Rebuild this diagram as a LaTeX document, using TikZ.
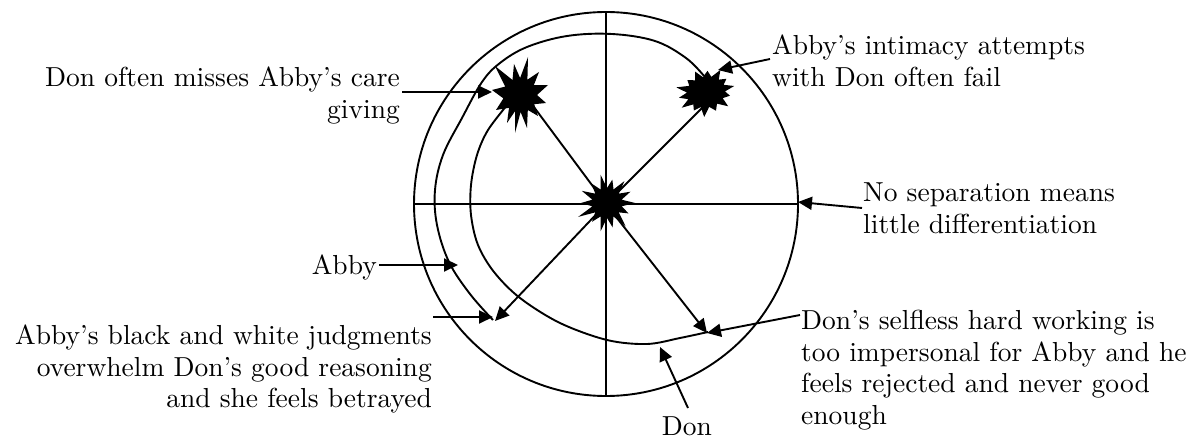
\documentclass[tikz,border=0pt]{standalone}
\usepackage{fontspec}
\setmainfont{lmroman10-regular.otf}[Ligatures=TeX]
\usetikzlibrary{arrows.meta,calc}
\begin{document}
\begin{tikzpicture}[x=1pt,y=-1pt,
  ln/.style={line width=1.9pt},
  arr/.style={ln,-{Triangle[length=14pt,width=13pt]}},
  lbl/.style={inner sep=0pt,font=\fontsize{27.5}{31.5}\selectfont},
  burst/.style={fill=black},
]
\useasboundingbox (0,0) rectangle (1196,438);
\coordinate (O) at (606,204);
% outer circle and cross
\draw[ln] (O) circle[radius=192pt];
\draw[ln] ($(O)+(0,-192)$) -- ($(O)+(0,192)$);
\draw[ln] ($(O)+(-192,0)$) -- ($(O)+(192,0)$);
% Abby boundary
\draw[ln] plot[smooth,tension=0.6] coordinates {(704,76) (686,58) (655,41) (612,34) (567,36) (527,47) (500,63) (482,82) (462,118) (443,155) (435,190) (437,225) (449,262) (470,294) (493,320)};
% Don boundary
\draw[ln] plot[smooth,tension=0.55] coordinates {(508,104) (488,130) (477,155) (471,185) (471,215) (478,245) (494,272) (520,298) (560,323) (607,340) (647,344) (680,338) (708,332)};
% star centres
\coordinate (ul) at (520,95);
\coordinate (ur) at (706,92);
\coordinate (ll) at (495,321);
\coordinate (lr) at (707,333);
% radial lines
\draw[ln] (O) -- (525,95);
\draw[ln] (O) -- (704,106);
\draw[arr] (O) -- (ll);
\draw[arr] (O) -- (lr);
% bursts
\fill[burst,shift={(ul)}] (28,-10) -- (17,0) -- (26,8) -- (14.2,9.2) -- (18,21) -- (7.8,15) -- (7,33) -- (0.6,17) -- (-5,38) -- (-5,16.2) -- (-13,28) -- (-11,12.8) -- (-24,15) -- (-16.6,3.4) -- (-28,-5) -- (-14.8,-8.4) -- (-25,-29) -- (-7.5,-15) -- (-6,-31) -- (0.1,-17) -- (8,-38) -- (7.4,-15.3) -- (19,-23) -- (13.8,-9.8) -- cycle;
\fill[burst,shift={(607,203)}] (0:28)
  \foreach \k/\r in {1/24,2/30,3/25,4/29,5/24,6/32,7/26,8/28,9/25,10/29,11/24,12/28,13/26,14/28} { -- ({(\k-0.5)*360/14}:15) -- ({\k*360/14}:\r) } -- cycle;
\fill[burst,shift={(ur)},rotate=12] ({1.2*24},0)
  \foreach \k/\r in {1/21,2/25,3/22,4/26,5/21,6/25,7/23,8/26,9/21,10/24,11/22,12/25,13/21,14/24} { -- ({cos((\k-0.5)*360/14)*1.2*16},{sin((\k-0.5)*360/14)*0.95*16}) -- ({cos(\k*360/14)*1.2*\r},{sin(\k*360/14)*0.95*\r}) } -- cycle;
% labels
\node[lbl,anchor=north east,align=right] (t1) at (400,67) {Don often misses Abby's care\\giving};
\node[lbl,anchor=base east] (t2) at (377,275) {Abby};
\node[lbl,anchor=north east,align=right] (t3) at (432,325) {Abby's black and white judgments\\overwhelm Don's good reasoning\\and she feels betrayed};
\node[lbl,anchor=north west,align=left] (t4) at (772,35) {Abby's intimacy attempts\\with Don often fail};
\node[lbl,anchor=north west,align=left] (t5) at (863,183) {No separation means\\little differentiation};
\node[lbl,anchor=north west,align=left] (t6) at (801,310) {Don's selfless hard working is\\too impersonal for Abby and he\\feels rejected and never good\\enough};
\node[lbl,anchor=base] (t7) at (687,435) {Don};
% label arrows
\coordinate (a1) at (402,92);
\coordinate (a2) at (770,59);
\coordinate (a3) at (862,208);
\coordinate (a4) at (379,265);
\coordinate (a5) at (433,317);
\coordinate (a6) at (800,315);
\coordinate (a7) at (688,408);
\draw[arr] (a1) -- (492,92);
\draw[arr] (a2) -- (718,70);
\draw[arr] (a3) -- (798,202);
\draw[arr] (a4) -- (458,265);
\draw[arr] (a5) -- (493,317);
\draw[arr] (a6) -- (lr);
\draw[arr] (a7) -- (660,347);
\end{tikzpicture}
\end{document}
